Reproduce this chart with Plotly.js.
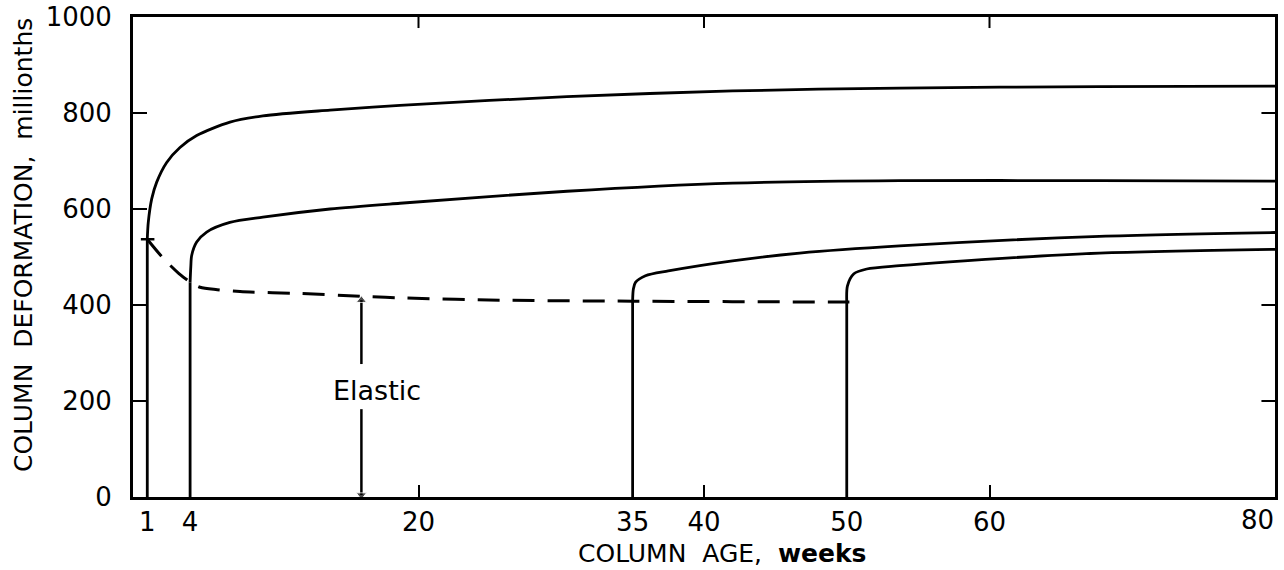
<!DOCTYPE html>
<html>
<head>
<meta charset="utf-8">
<script src="https://cdn.plot.ly/plotly-3.0.1.min.js"></script>
<style>html,body{margin:0;padding:0;background:#fff;}#chart{width:1284px;height:570px;}</style>
</head>
<body>
<div id="chart"></div>
<script>
// Column age (weeks) tick labels
var xTickVals = [1, 4, 20, 35, 40, 50, 60];
var xEndLabel = "80";
var xEndLabelPos = 78.8;
var xTopTicks = [20, 40, 60];
var yTickVals = [0, 200, 400, 600, 800, 1000];
var yTickText = ["0", "200", "400", "600", "800", "1000"];
var yRightTicks = [200, 400, 600, 800];

// Loaded at week 1
var age1 = [1, 1, 1.07, 1.31, 1.66, 2.36, 3.29, 4.46, 6.79, 9.1, 13.8, 18.7, 30.4, 42, 53.7, 67.7, 80];
var def1 = [0, 537, 572, 621, 656, 697, 728, 753, 781, 794, 806, 816, 834, 846, 852, 855, 856];

// Loaded at week 4
var age4 = [4, 4, 4.05, 4.11, 4.46, 5.16, 6.79, 9.1, 13.8, 18.7, 30.4, 42, 53.7, 67.7, 80];
var def4 = [0, 447, 480, 503, 531, 552, 572, 583, 600, 612, 637, 654, 659, 659, 658];

// Loaded at week 35
var age35 = [35, 35, 35.05, 35.2, 35.9, 37.5, 42, 46.7, 53.7, 67.7, 80];
var def35 = [0, 410, 433, 447, 461, 471, 492, 508, 523, 543, 551];

// Loaded at week 50
var age50 = [50, 50, 50.05, 50.5, 51.4, 53.7, 57.2, 67.7, 80];
var def50 = [0, 406, 440, 465, 475, 482, 490, 508, 516];

// Elastic deformation (dashed)
var ageEl = [1, 2.1, 3.2, 4, 4.7, 5.9, 7.5, 11.7, 16, 18.7, 25.7, 35, 50, 50.6];
var defEl = [537, 498, 466, 448, 437, 432, 428, 424, 418, 415, 410, 408, 406, 406];

// Load-point tick mark at week 1
var markAge = [0.55, 1.5];
var markDef = [537, 537];

// Elastic arrow
var arrowAge = [16, 16];
var arrowUpDef = [277, 410];
var arrowDownDef = [183, 4];
var labelAge = 17.1;
var labelDef = 221;

var black = "#000";
var lin = {color: black, width: 2.8};
var spl = {color: black, width: 2.8, shape: "spline", smoothing: 0.8};

var curves = [[age1, def1], [age4, def4], [age35, def35], [age50, def50]];
var traces = [];
curves.forEach(function (c) {
  // vertical loading step
  traces.push({x: c[0].slice(0, 2), y: c[1].slice(0, 2), mode: "lines", line: lin, hoverinfo: "skip"});
  // creep curve
  traces.push({x: c[0].slice(1), y: c[1].slice(1), mode: "lines", line: spl, hoverinfo: "skip"});
});

traces.push({x: ageEl, y: defEl, mode: "lines", line: {color: black, width: 3, dash: "22px,13px", shape: "spline", smoothing: 0.8}, hoverinfo: "skip"});
traces.push({x: markAge, y: markDef, mode: "lines", line: {color: black, width: 2.5}, hoverinfo: "skip"});
traces.push({x: arrowAge, y: arrowUpDef, mode: "lines+markers", line: {color: black, width: 2.5},
   marker: {symbol: ["circle", "triangle-up"], size: [0, 9], color: black}, hoverinfo: "skip"});
traces.push({x: arrowAge, y: arrowDownDef, mode: "lines+markers", line: {color: black, width: 2.5},
   marker: {symbol: ["circle", "triangle-down"], size: [0, 9], color: black}, hoverinfo: "skip"});

// frame tick marks on the top and right edges, one small trace per tick
xTopTicks.forEach(function (v) {
  traces.push({x: [v, v], y: [1000, 977], mode: "lines", line: {color: black, width: 2}, hoverinfo: "skip"});
});
yRightTicks.forEach(function (v) {
  traces.push({x: [80, 79.05], y: [v, v], mode: "lines", line: {color: black, width: 2}, hoverinfo: "skip"});
});

var tickFont = {family: "DejaVu Sans, sans-serif", size: 26, color: black};
var layout = {
  width: 1284, height: 570,
  margin: {l: 133, r: 9, t: 17, b: 73, pad: 0},
  paper_bgcolor: "#fff", plot_bgcolor: "#fff",
  showlegend: false,
  xaxis: {
    range: [0, 80], tickmode: "array", tickvals: xTickVals, ticktext: xTickVals.map(String),
    ticks: "inside", ticklen: 12, tickwidth: 2, tickcolor: black,
    showline: true, linewidth: 3, linecolor: black, mirror: true,
    showgrid: false, zeroline: false, tickfont: tickFont, ticklabelstandoff: 0
  },
  yaxis: {
    range: [0, 1000], tickmode: "array", tickvals: yTickVals, ticktext: yTickText,
    ticks: "inside", ticklen: 14, tickwidth: 2, tickcolor: black,
    showline: true, linewidth: 3, linecolor: black, mirror: true,
    showgrid: false, zeroline: false, tickfont: tickFont, ticklabelstandoff: 13
  },
  annotations: [
    {text: xEndLabel, x: xEndLabelPos, y: -0.048, xref: "x", yref: "paper", showarrow: false,
     xanchor: "center", yanchor: "middle", font: tickFont},
    {text: "Elastic", x: labelAge, y: labelDef, xref: "x", yref: "y", showarrow: false,
     font: {family: "DejaVu Sans, sans-serif", size: 27, color: black}},
    {text: "COLUMN  AGE,  <b>weeks</b>", x: 0.5158, y: -0.117, xref: "paper", yref: "paper",
     xanchor: "center", yanchor: "middle", showarrow: false,
     font: {family: "DejaVu Sans, sans-serif", size: 25, color: black}},
    {text: "COLUMN  DEFORMATION,  millionths", x: -0.0963, y: 0.525, xref: "paper", yref: "paper",
     xanchor: "center", yanchor: "middle", textangle: -90, showarrow: false,
     font: {family: "DejaVu Sans, sans-serif", size: 25, color: black}}
  ]
};

Plotly.newPlot("chart", traces, layout, {displayModeBar: false, staticPlot: true});
</script>
</body>
</html>
